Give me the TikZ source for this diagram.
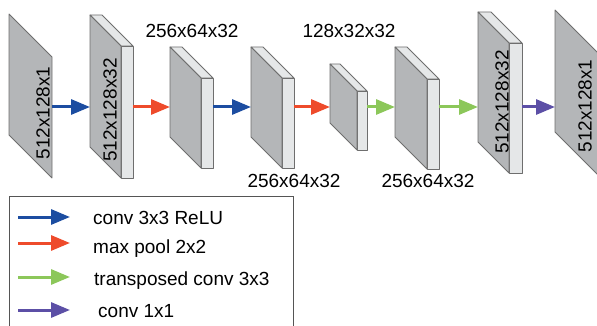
\documentclass[tikz,border=0pt]{standalone}
\usepackage{fontspec}
\setmainfont{Liberation Sans}
\usetikzlibrary{arrows.meta}
\definecolor{cblue}{HTML}{1C4DA1}
\definecolor{cred}{HTML}{EE4B2B}
\definecolor{cgreen}{HTML}{8CC75A}
\definecolor{cpurple}{HTML}{5C4FA6}
\definecolor{cgray}{HTML}{B4B6B8}
\definecolor{clight}{HTML}{E5E7E8}
\definecolor{cedge}{HTML}{6E6E6E}
\definecolor{cbox}{HTML}{555555}
\tikzset{
  front/.style={fill=cgray, draw=cedge, line width=0.8pt, line join=round},
  face/.style={fill=clight, draw=cedge, line width=0.8pt, line join=round},
  lbl/.style={inner sep=0pt, font=\fontsize{19}{22}\selectfont},
  flow/.style={line width=3pt, -{Triangle[length=19pt,width=15pt]}},
  legendbox/.style={draw=cbox, line width=0.9pt}
}
\newcommand\ublock[6]{%
  \filldraw[face] (#2,#3) -- ({#2+#6},#3) -- ({#2+#4+#6},{#3+#4}) -- ({#2+#4},{#3+#4}) -- cycle;
  \filldraw[face] ({#2+#4},{#3+#4}) -- ({#2+#4+#6},{#3+#4}) -- ({#2+#4+#6},{#3+#4+#5}) -- ({#2+#4},{#3+#4+#5}) -- cycle;
  \filldraw[front] (#2,#3) -- ({#2+#4},{#3+#4}) -- ({#2+#4},{#3+#4+#5}) -- (#2,{#3+#5}) -- cycle;
  \coordinate (#1-l) at (#2,107);
  \coordinate (#1-r) at ({#2+#4+#6},107);
}
\begin{document}
\begin{tikzpicture}[x=1pt,y=-1pt]
\clip (0,0) rectangle (597,326);
% blocks
\filldraw[front] (9,14) -- (52,57) -- (52,178) -- (9,135) -- cycle;
\coordinate (b1-r) at (52,107);
\ublock{b2}{90}{15}{31}{132}{12}
\ublock{b3}{170}{47}{31}{90}{12}
\ublock{b4}{251}{47}{31}{90}{12}
\ublock{b5}{330}{64}{27}{59}{10}
\ublock{b6}{395}{47}{32}{90}{12}
\ublock{b7}{478}{12}{31}{130}{13}
\filldraw[front] (555,10) -- (598,53) -- (598,175) -- (555,132) -- cycle;
\coordinate (b8-l) at (555,107);
% labels
\node[lbl, rotate=90] (t1) at (43,113) {512x128x1};
\node[lbl, rotate=90] (t2) at (110,110) {512x128x32};
\node[lbl, anchor=base] (t3) at (192,38) {256x64x32};
\node[lbl, anchor=base] (t4) at (294,187) {256x64x32};
\node[lbl, anchor=base] (t5) at (349,38) {128x32x32};
\node[lbl, anchor=base] (t6) at (428,187) {256x64x32};
\node[lbl, rotate=90] (t7) at (502,102) {512x128x32};
\node[lbl, rotate=90] (t8) at (585,106) {512x128x1};
% flow arrows
\draw[flow, cblue] (b1-r) -- (b2-l);
\draw[flow, cred] (b2-r) -- (b3-l);
\draw[flow, cblue] (b3-r) -- (b4-l);
\draw[flow, cred] (b4-r) -- (b5-l);
\draw[flow, cgreen] (b5-r) -- (b6-l);
\draw[flow, cgreen] (b6-r) -- (b7-l);
\draw[flow, cpurple] (b7-r) -- (b8-l);
% legend
\draw[legendbox] (9,340) -- (9,196) -- (293,196) -- (293,340);
\coordinate (la1s) at (18,217); \coordinate (la1e) at (70,217);
\coordinate (la2s) at (18,243); \coordinate (la2e) at (70,243);
\coordinate (la3s) at (18,277); \coordinate (la3e) at (70,277);
\coordinate (la4s) at (18,310); \coordinate (la4e) at (70,310);
\draw[flow, cblue] (la1s) -- (la1e);
\draw[flow, cred] (la2s) -- (la2e);
\draw[flow, cgreen] (la3s) -- (la3e);
\draw[flow, cpurple] (la4s) -- (la4e);
\node[lbl, anchor=base west] (l1) at (93,224) {conv 3x3 ReLU};
\node[lbl, anchor=base west] (l2) at (93,253) {max pool 2x2};
\node[lbl, anchor=base west] (l3) at (94,285) {transposed conv 3x3};
\node[lbl, anchor=base west] (l4) at (98,317) {conv 1x1};
\end{tikzpicture}
\end{document}
